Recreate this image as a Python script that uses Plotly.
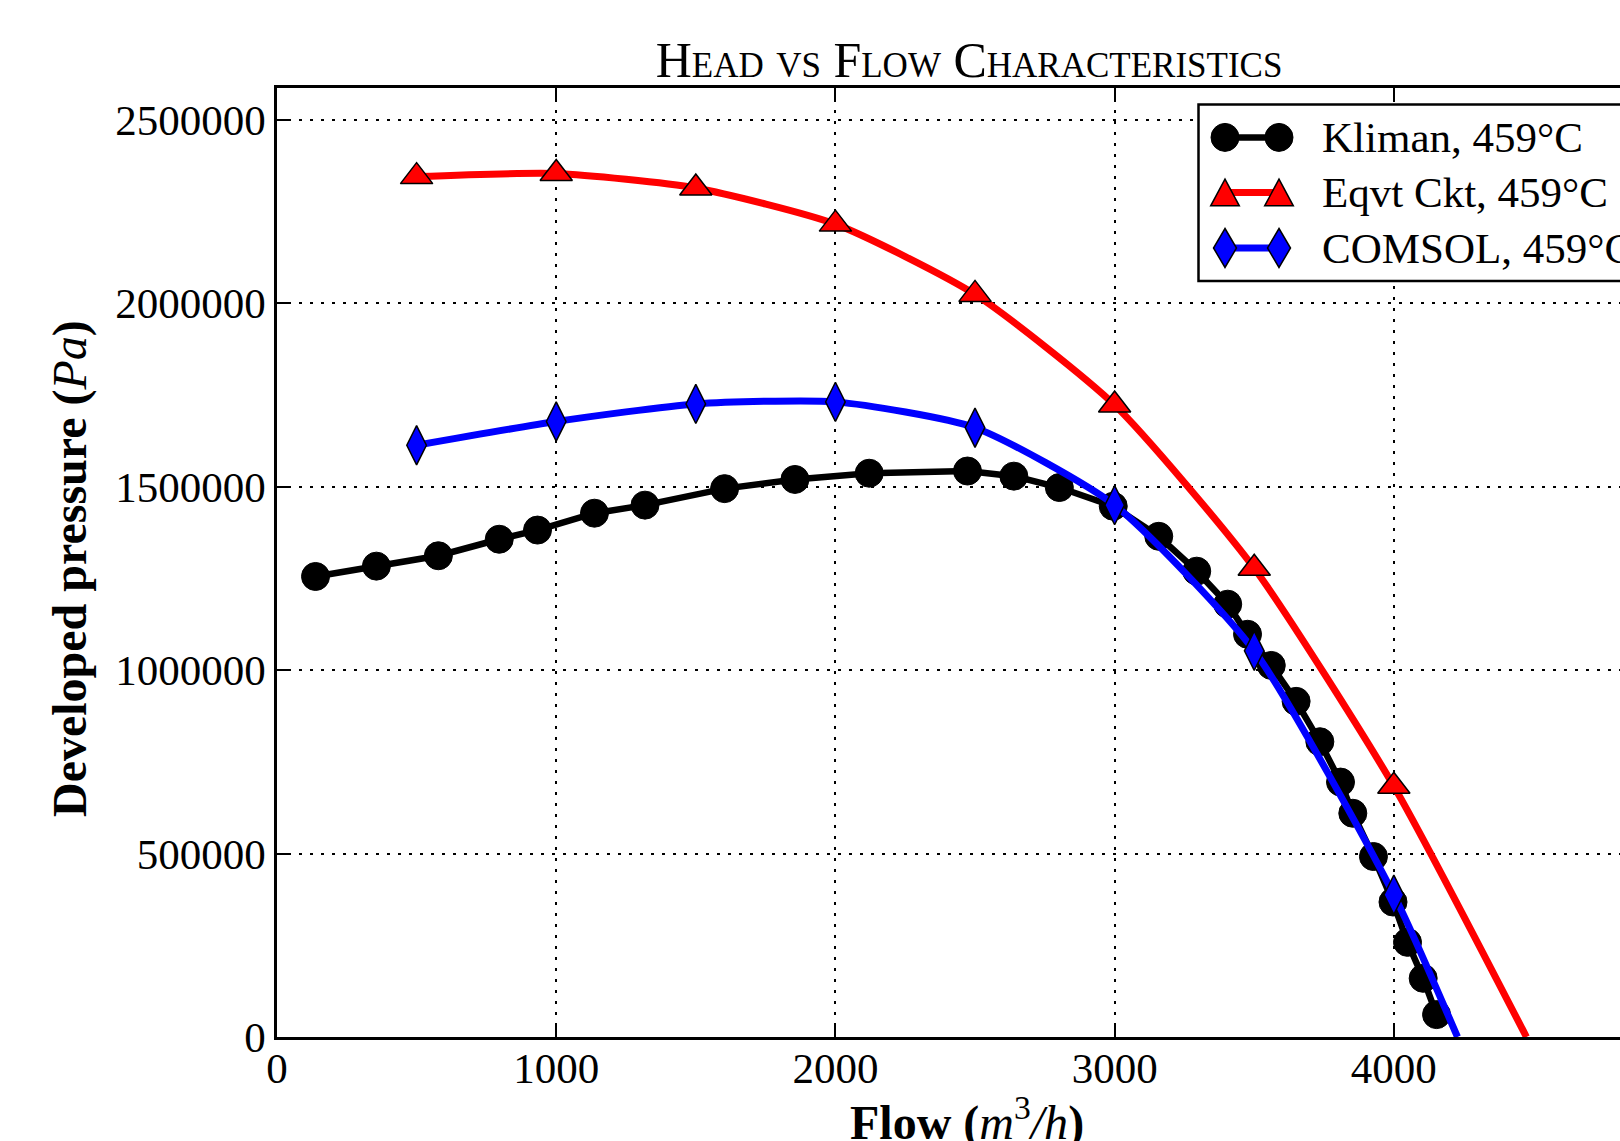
import plotly.graph_objects as go

# ---------------- data ----------------
kliman_flow = [138, 356, 578, 796, 933, 1137, 1318, 1603, 1855, 2121, 2473, 2639, 2802, 2995,
               3158, 3294, 3405, 3476, 3561, 3650, 3735, 3809, 3853, 3927, 3997, 4049, 4105, 4153]
kliman_p = [1255500, 1283700, 1312000, 1357000, 1382000, 1428000, 1450000, 1495000, 1520000,
            1537000, 1543000, 1529000, 1498000, 1447000, 1365000, 1270000, 1180000, 1098000,
            1013000, 915000, 805000, 695000, 610000, 492000, 368000, 258000, 160000, 61000]

eqvt_flow = [500, 1000, 1500, 2000, 2500, 3000, 3500, 4000, 4475]
eqvt_p = [2345600, 2354100, 2314700, 2216100, 2024500, 1723100, 1278000, 683700, 0]

comsol_flow = [500, 1000, 1500, 2000, 2500, 3000, 3500, 4000, 4228]
comsol_p = [1613200, 1678000, 1725900, 1731500, 1661100, 1449900, 1052700, 387900, 0]

x_ticks = [0, 1000, 2000, 3000, 4000]
y_ticks = [0, 500000, 1000000, 1500000, 2000000, 2500000]

series_names = ["Kliman, 459°C", "Eqvt Ckt, 459°C", "COMSOL, 459°C"]
title_text = "Head vs Flow Characteristics"

# ---------------- layout constants ----------------
W, H = 1620, 1141
ML, MT, MB = 277, 88, 104
PW, PH = W - ML, H - MT - MB
X_MAX = 4810
Y_MAX = 2587200
FONT = "Liberation Serif"


def px_x(px):
    return (px - ML) / PW


def px_y(py):
    return (H - MB - py) / PH


fig = go.Figure()

# Black: Kliman
fig.add_trace(go.Scatter(
    x=kliman_flow, y=kliman_p, mode="lines+markers", name=series_names[0],
    line=dict(color="black", width=6.5),
    marker=dict(symbol="circle", size=28, color="black", line=dict(color="black", width=1)),
    showlegend=False, cliponaxis=False))

# Red: Eqvt Ckt (line through all points, markers except end point)
fig.add_trace(go.Scatter(
    x=eqvt_flow, y=eqvt_p, mode="lines", name=series_names[1],
    line=dict(color="#ff0000", width=7, shape="spline", smoothing=0.6),
    showlegend=False))
fig.add_trace(go.Scatter(
    x=eqvt_flow[:-1], y=eqvt_p[:-1], mode="markers", name=series_names[1],
    marker=dict(symbol="triangle-up", size=28, color="#ff0000", line=dict(color="black", width=1.5)),
    showlegend=False, cliponaxis=False))

# Blue: COMSOL
fig.add_trace(go.Scatter(
    x=comsol_flow, y=comsol_p, mode="lines", name=series_names[2],
    line=dict(color="#0000ff", width=7, shape="spline", smoothing=0.6),
    showlegend=False))
fig.add_trace(go.Scatter(
    x=comsol_flow[:-1], y=comsol_p[:-1], mode="markers", name=series_names[2],
    marker=dict(symbol="diamond-tall", size=28, color="#0000ff", line=dict(color="black", width=1.5)),
    showlegend=False, cliponaxis=False))

axis_common = dict(
    showline=True, linecolor="black", linewidth=2.5,
    ticks="inside", ticklen=13, tickwidth=1.5, tickcolor="black",
    showgrid=True, gridcolor="black", gridwidth=1.5, griddash="3px,8px",
    zeroline=False,
    tickfont=dict(family=FONT, size=43, color="black"),
)

fig.update_xaxes(range=[0, X_MAX], tickvals=x_ticks, ticktext=[str(v) for v in x_ticks],
                 mirror="ticks", ticklabelstandoff=-8, **axis_common)
fig.update_yaxes(range=[0, Y_MAX], tickvals=y_ticks, ticktext=[str(v) for v in y_ticks],
                 mirror=False, **axis_common)

# ---------------- custom legend ----------------
shapes = []
annotations = []
box_left, box_top, box_bottom = 1198.5, 104.4, 281
shapes.append(dict(type="rect", xref="paper", yref="paper",
                   x0=px_x(box_left), x1=px_x(1700), y0=px_y(box_bottom), y1=px_y(box_top),
                   line=dict(color="black", width=2.5), fillcolor="white", layer="above"))
row_y = [137.4, 192.5, 248.0]
colors = ["black", "#ff0000", "#0000ff"]
lx0, lx1 = 1225, 1279
paths = [
    None,
    "M -14.3,-13.3 L 14.3,-13.3 L 0,13.3 Z",
    "M 0,19.5 L 11.5,0 L 0,-19.5 L -11.5,0 Z",
]
for i, ry in enumerate(row_y):
    yp = px_y(ry)
    shapes.append(dict(type="line", xref="paper", yref="paper",
                       x0=px_x(lx0), x1=px_x(lx1), y0=yp, y1=yp,
                       line=dict(color=colors[i], width=6.5 if i == 0 else 7), layer="above"))
    for cx in (lx0, lx1):
        if i == 0:
            shapes.append(dict(type="circle", xref="paper", yref="paper",
                               xsizemode="pixel", ysizemode="pixel",
                               xanchor=px_x(cx), yanchor=yp,
                               x0=-14, x1=14, y0=-14, y1=14,
                               fillcolor="black", line=dict(color="black", width=1), layer="above"))
        else:
            shapes.append(dict(type="path", xref="paper", yref="paper",
                               xsizemode="pixel", ysizemode="pixel",
                               xanchor=px_x(cx), yanchor=yp, path=paths[i],
                               fillcolor=colors[i], line=dict(color="black", width=1.5), layer="above"))
    annotations.append(dict(text=series_names[i], xref="paper", yref="paper",
                            x=px_x(1320), y=yp, xanchor="left", yanchor="middle",
                            showarrow=False, font=dict(family=FONT, size=43, color="black")))

# axis titles
annotations.append(dict(text="<b>Flow</b> <b>(</b><i>m</i><sup>3</sup><i>/h</i><b>)</b>",
                        xref="paper", yref="paper", x=px_x(967), y=px_y(1119),
                        xanchor="center", yanchor="middle", showarrow=False,
                        font=dict(family=FONT, size=48, color="black")))
annotations.append(dict(text="<b>Developed pressure</b> <b>(</b><i>Pa</i><b>)</b>",
                        xref="paper", yref="paper", x=px_x(70), y=px_y(569),
                        xanchor="center", yanchor="middle", textangle=-90, showarrow=False,
                        font=dict(family=FONT, size=48, color="black")))

fig.update_layout(
    width=W, height=H,
    margin=dict(l=ML, r=0, t=MT, b=MB, autoexpand=False),
    paper_bgcolor="white", plot_bgcolor="white",
    title=dict(text=title_text, xref="container", yref="container",
               x=969 / W, y=1 - 59 / H, xanchor="center", yanchor="middle",
               font=dict(family=FONT, size=50, color="black", variant="small-caps")),
    shapes=shapes, annotations=annotations,
    showlegend=False,
)

fig.write_html("out.html", config={"displayModeBar": False},
               post_script="document.body.style.margin='0';document.body.style.overflow='hidden';")
